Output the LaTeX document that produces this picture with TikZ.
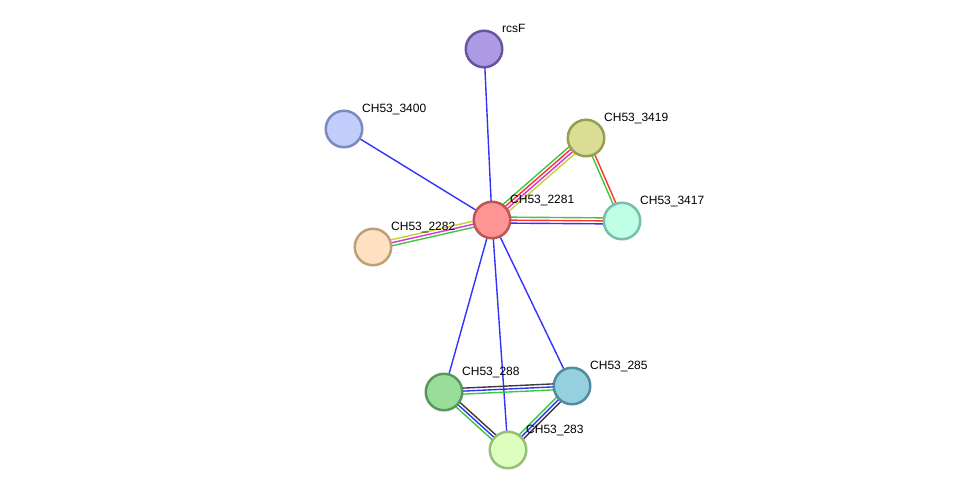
\documentclass[tikz,border=0pt]{standalone}
\usepackage{fontspec}
\setmainfont{Liberation Sans}
\usetikzlibrary{calc,backgrounds}
\definecolor{eblue}{RGB}{50,50,255}
\definecolor{egreen}{RGB}{60,200,60}
\definecolor{ered}{RGB}{255,50,50}
\definecolor{emag}{RGB}{215,50,215}
\definecolor{eyel}{RGB}{195,210,50}
\definecolor{edark}{RGB}{60,60,60}
\definecolor{dA}{RGB}{104,85,160}\definecolor{fA}{RGB}{172,155,227}
\definecolor{dB}{RGB}{122,138,190}\definecolor{fB}{RGB}{193,206,252}
\definecolor{dC}{RGB}{150,158,82}\definecolor{fC}{RGB}{217,222,148}
\definecolor{dD}{RGB}{188,85,85}\definecolor{fD}{RGB}{255,148,148}
\definecolor{dE}{RGB}{120,190,170}\definecolor{fE}{RGB}{190,255,230}
\definecolor{dF}{RGB}{190,160,120}\definecolor{fF}{RGB}{255,224,192}
\definecolor{dG}{RGB}{90,150,95}\definecolor{fG}{RGB}{152,222,152}
\definecolor{dH}{RGB}{80,140,160}\definecolor{fH}{RGB}{150,208,222}
\definecolor{dI}{RGB}{150,190,120}\definecolor{fI}{RGB}{220,255,190}
\tikzset{
  prot/.style 2 args={circle, draw=#1, fill=#2, line width=2.5pt, minimum size=36.5pt, inner sep=0pt},
  lbl/.style={anchor=base west, inner sep=0pt, font=\fontsize{12}{14}\selectfont, text=black},
  eline/.style={line width=1.4pt}
}
\newcommand\edgeline[4]{\draw[eline,#4] ($(#1)!#3!90:(#2)$) -- ($(#2)!#3!-90:(#1)$);}
\begin{document}
\begin{tikzpicture}[x=1pt,y=-1pt]
\useasboundingbox (0,0) rectangle (976,496);
\node[prot={dA}{fA}] (rcsF) at (484,49) {};
\node[prot={dB}{fB}] (n3400) at (344,129) {};
\node[prot={dC}{fC}] (n3419) at (586,138) {};
\node[prot={dD}{fD}] (n2281) at (492,220) {};
\node[prot={dE}{fE}] (n3417) at (622,221) {};
\node[prot={dF}{fF}] (n2282) at (373,247) {};
\node[prot={dG}{fG}] (n288) at (444,392) {};
\node[prot={dH}{fH}] (n285) at (572,386) {};
\node[prot={dI}{fI}] (n283) at (508,450) {};
\begin{scope}[on background layer]
\edgeline{n2281}{rcsF}{0pt}{eblue}
\edgeline{n2281}{n3400}{0pt}{eblue}
\edgeline{n2281}{n288}{0pt}{eblue}
\edgeline{n2281}{n283}{0pt}{eblue}
\edgeline{n2281}{n285}{0pt}{eblue}
\edgeline{n2281}{n3419}{4.5pt}{egreen}
\edgeline{n2281}{n3419}{1.5pt}{ered}
\edgeline{n2281}{n3419}{-1.5pt}{emag}
\edgeline{n2281}{n3419}{-4.5pt}{eyel}
\edgeline{n3419}{n3417}{-1.5pt}{egreen}
\edgeline{n3419}{n3417}{1.5pt}{ered}
\edgeline{n2281}{n3417}{3pt}{egreen}
\edgeline{n2281}{n3417}{0pt}{ered}
\edgeline{n2281}{n3417}{-3pt}{eblue}
\edgeline{n2282}{n2281}{3pt}{eyel}
\edgeline{n2282}{n2281}{0pt}{emag}
\edgeline{n2282}{n2281}{-3pt}{egreen}
\edgeline{n288}{n285}{3pt}{edark}
\edgeline{n288}{n285}{0pt}{eblue}
\edgeline{n288}{n285}{-3pt}{egreen}
\edgeline{n288}{n283}{3pt}{edark}
\edgeline{n288}{n283}{0pt}{eblue}
\edgeline{n288}{n283}{-3pt}{egreen}
\edgeline{n283}{n285}{3pt}{egreen}
\edgeline{n283}{n285}{0pt}{eblue}
\edgeline{n283}{n285}{-3pt}{edark}
\end{scope}
\node[lbl] (lrcsF) at ($(rcsF)+(18,-17)$) {rcsF};
\node[lbl] (l3400) at ($(n3400)+(18,-17)$) {CH53\_3400};
\node[lbl] (l3419) at ($(n3419)+(18,-17)$) {CH53\_3419};
\node[lbl] (l2281) at ($(n2281)+(18,-17)$) {CH53\_2281};
\node[lbl] (l3417) at ($(n3417)+(18,-17)$) {CH53\_3417};
\node[lbl] (l2282) at ($(n2282)+(18,-17)$) {CH53\_2282};
\node[lbl] (l288) at ($(n288)+(18,-17)$) {CH53\_288};
\node[lbl] (l285) at ($(n285)+(18,-17)$) {CH53\_285};
\node[lbl] (l283) at ($(n283)+(18,-17)$) {CH53\_283};
\end{tikzpicture}
\end{document}
